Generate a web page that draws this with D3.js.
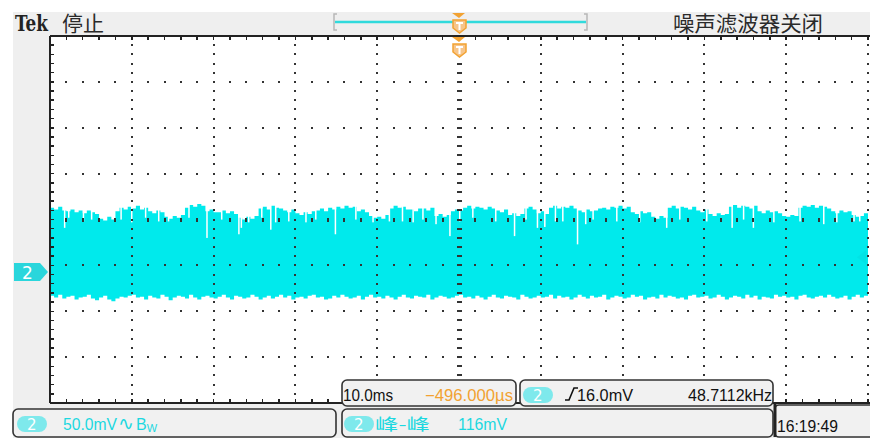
<!DOCTYPE html>
<html><head><meta charset="utf-8">
<script src="https://cdn.jsdelivr.net/npm/d3@7"></script>
<style>html,body{margin:0;padding:0;background:#fff;overflow:hidden}svg{display:block}</style>
</head><body><svg id="c" width="870" height="440"></svg>
<script>
// ---- data (mV, channel 2, sampled every 0.5 ms over 100 ms) ----
const sampleStep = 0.5; // ms
const topEnv = [
70,68,71,67,66,68,65,67,64,67,65,63,58,56,60,57,66,70,68,71,
69,72,68,70,66,64,67,65,60,58,61,59,62,70,73,71,74,72,66,68,
65,65,67,64,66,63,59,57,60,58,61,69,71,68,72,70,69,67,65,68,
64,62,65,63,66,67,69,66,70,68,71,69,72,70,71,66,68,65,61,59,
60,58,62,69,72,70,71,68,68,66,69,69,67,70,61,63,60,62,66,68,
67,70,72,69,71,70,68,71,69,67,65,68,62,64,61,63,69,71,68,64,
66,63,70,72,69,71,70,72,69,67,65,68,66,67,69,70,68,71,70,72,
69,71,65,63,66,64,65,60,58,61,59,70,72,69,71,70,68,71,67,65,
68,63,61,64,62,63,71,73,70,72,71,69,72,66,64,67,65,66,64,61,
60,62,61,70,72,71,73,70,72,71,69,66,64,67,65,66,62,60,61,64
];
const botEnv = [
-26,-28,-25,-29,-27,-26,-30,-28,-27,-25,-29,-31,-28,-26,-30,-32,-29,-27,-28,-26,
-25,-28,-27,-30,-26,-28,-29,-25,-27,-31,-28,-26,-27,-29,-25,-28,-30,-27,-26,-28,
-29,-27,-25,-28,-30,-26,-27,-29,-28,-25,-27,-30,-28,-26,-29,-27,-25,-28,-26,-30,
-28,-27,-29,-26,-25,-28,-27,-30,-29,-26,-28,-25,-27,-29,-28,-26,-30,-27,-25,-28,
-27,-29,-26,-28,-30,-27,-25,-28,-29,-26,-27,-28,-25,-30,-28,-26,-27,-29,-28,-26,
-25,-28,-27,-29,-26,-28,-30,-27,-25,-28,-29,-26,-27,-28,-30,-25,-27,-29,-28,-26,
-28,-27,-25,-29,-26,-28,-27,-30,-28,-25,-27,-29,-26,-28,-27,-25,-30,-28,-26,-27,
-29,-28,-25,-27,-26,-30,-28,-27,-29,-25,-28,-26,-27,-29,-28,-30,-26,-25,-28,-27,
-26,-29,-28,-25,-27,-30,-28,-26,-27,-29,-25,-28,-26,-30,-27,-28,-29,-25,-27,-26,
-28,-27,-30,-26,-25,-28,-29,-27,-26,-28,-25,-27,-29,-28,-26,-30,-27,-25,-28,-26
];
// narrow dips from the top edge: [time ms, lowest mV]
const notches = [
[1.7,48],[4.0,55],[8.6,57],[13.2,55],[19.1,37],[23.0,41],[23.3,48],[26.9,46],[27.5,54],
[31.2,54],[34.8,41],[41.4,55],[44.3,54],[47.1,52],[48.8,39],[50.0,55],[56.7,39],[59.5,48],
[60.4,49],[61.7,55],[64.4,30],[65.4,52],[75.3,48],[83.3,48],[85.9,48],[94.5,52],[98.2,55],
[2.2,59],[5.0,57],[9.9,54],[11.6,59],[14.4,55],[16.9,59],[20.9,57],[24.2,54],[25.8,59],
[29.1,55],[32.4,57],[37.3,57],[39.4,54],[43.0,55],[45.5,57],[51.6,59],[54.4,55],[58.1,57],
[62.6,55],[66.3,57],[69.2,55],[72.0,54],[76.9,57],[80.2,55],[84.7,57],[88.4,54],[91.6,55],
[96.1,54],[98.9,55]
];
const timePerDiv = 10;      // ms/div
const voltsPerDiv = 50;     // mV/div
const ch2Position = -1.142; // div
const trigLevel = 16.0;     // mV
const trigTime = 50;        // ms (screen centre)
const headerTek = "Tek", headerState = "停止", headerNoise = "噪声滤波器关闭";
const readTimebase = "10.0ms", readDelay = "\u2212496.000\u00b5s";
const readTrigLevel = "16.0mV", readFreq = "48.7112kHz";
const readScale = "50.0mV", readMeasName = "峰-峰", readMeasVal = "116mV", readClock = "16:19:49";

// ---- layout ----
const svg = d3.select("#c");
const P = {l:50, r:868, t:36, b:403};
const gx = d3.scaleLinear().domain([0,10]).range([P.l, P.r]);   // graticule divisions
const gy = d3.scaleLinear().domain([-4,4]).range([P.b, P.t]);
const x = d3.scaleLinear().domain([0, 10*timePerDiv]).range([P.l, P.r]);
const y = d3.scaleLinear().domain([(-4-ch2Position)*voltsPerDiv, (4-ch2Position)*voltsPerDiv]).range([P.b, P.t]);

const CY = "#00eaec", DARK = "#2a2a2a", ORANGE = "#f2a232", GRAY = "#efefef";

svg.append("rect").attr("x",13).attr("y",12).attr("width",857).attr("height",426).attr("fill",GRAY);
svg.append("rect").attr("x",P.l).attr("y",P.t).attr("width",870-P.l).attr("height",P.b-P.t).attr("fill","#fff");

// waveform
svg.append("clipPath").attr("id","pc").append("rect").attr("x",P.l+1).attr("y",P.t).attr("width",870-P.l).attr("height",P.b-P.t);
const pts = topEnv.map((v,i)=>({t:i*sampleStep, hi:v, lo:botEnv[i]}));
pts.push({t:topEnv.length*sampleStep, hi:topEnv[topEnv.length-1], lo:botEnv[botEnv.length-1]});
const wg = svg.append("g").attr("clip-path","url(#pc)");
wg.append("path").datum(pts).attr("fill",CY)
  .attr("d", d3.area().x(d=>x(d.t)).y0(d=>y(d.lo)).y1(d=>y(d.hi)).curve(d3.curveStepAfter));
wg.selectAll("rect.n").data(notches).join("rect").attr("class","n")
  .attr("x",d=>x(d[0])).attr("width",1.5)
  .attr("y",y(80)).attr("height",d=>y(d[1])-y(80)).attr("fill","#fff");

// graticule dots
const gg = svg.append("g").attr("fill","#333").attr("shape-rendering","crispEdges");
for (let k=1;k<=10;k++){
  for (let m=1;m<40;m++){
    const yy = gy(-4+m*0.2);
    if (k===5) gg.append("rect").attr("x",gx(k)-2.5).attr("y",yy-1).attr("width",5).attr("height",2);
    else gg.append("rect").attr("x",gx(k)-1).attr("y",yy-1).attr("width",2).attr("height",2);
  }
}
for (let j=-3;j<=3;j++){
  for (let m=1;m<50;m++){
    if (m%5===0) continue;
    const xx = gx(m*0.2);
    if (j===0) gg.append("rect").attr("x",xx-1).attr("y",gy(j)-2).attr("width",2).attr("height",4);
    else gg.append("rect").attr("x",xx-1).attr("y",gy(j)-1).attr("width",2).attr("height",2);
  }
}
// border + ticks
const bg = svg.append("g").attr("stroke","#222").attr("shape-rendering","crispEdges");
bg.append("line").attr("x1",P.l).attr("x2",P.l).attr("y1",P.t).attr("y2",P.b).attr("stroke-width",2);
bg.append("line").attr("x1",P.l).attr("x2",870).attr("y1",P.t).attr("y2",P.t).attr("stroke-width",2);
bg.append("line").attr("x1",P.l).attr("x2",870).attr("y1",P.b).attr("y2",P.b).attr("stroke-width",2);
for (let m=1;m<40;m++){ const yy=gy(-4+m*0.2); bg.append("line").attr("x1",P.l).attr("x2",P.l+4).attr("y1",yy).attr("y2",yy).attr("stroke-width",1.5); }
for (let m=1;m<=50;m++){ const xx=gx(m*0.2);
  bg.append("line").attr("x1",xx).attr("x2",xx).attr("y1",P.t).attr("y2",P.t+4).attr("stroke-width",1.5);
  bg.append("line").attr("x1",xx).attr("x2",xx).attr("y1",P.b).attr("y2",P.b-4).attr("stroke-width",1.5);
}

// header
svg.append("text").attr("x",15).attr("y",31).attr("font-family","'DejaVu Serif',serif").attr("font-weight","bold")
  .attr("font-size",23).attr("textLength",33).attr("lengthAdjust","spacingAndGlyphs").attr("fill","#222").text(headerTek);
svg.append("text").attr("x",62).attr("y",31).attr("font-family","'Noto Sans CJK SC'").attr("font-size",21)
  .attr("fill",DARK).text(headerState);
svg.append("text").attr("x",673).attr("y",31).attr("font-family","'Noto Sans CJK SC'").attr("font-size",21)
  .attr("textLength",150).attr("lengthAdjust","spacingAndGlyphs").attr("fill",DARK).text(headerNoise);
// record bracket
svg.append("path").attr("d","M337,14 H334 V30 H337 M584,14 H587 V30 H584").attr("fill","none").attr("stroke","#b8b8b8").attr("stroke-width",1.5);
svg.append("line").attr("x1",335).attr("x2",586).attr("y1",22).attr("y2",22).attr("stroke","#30dadc").attr("stroke-width",2.5);
// trigger markers
const tx = x(trigTime);
function trigMark(cx, ty){
  svg.append("path").attr("d",`M${cx-7},${ty} H${cx+6} L${cx},${ty+5} Z`).attr("fill",ORANGE);
  const py = ty+7;
  svg.append("path").attr("d",`M${cx-6},${py} H${cx+7} V${py+8} L${cx+0.5},${py+13} L${cx-6},${py+8} Z`)
    .attr("fill","#f7c58a").attr("stroke",ORANGE).attr("stroke-width",1.5);
  svg.append("path").attr("d",`M${cx-3},${py+3} H${cx+4} M${cx+0.5},${py+3} V${py+10}`).attr("stroke","#fff").attr("stroke-width",2);
}
trigMark(tx, 13);
trigMark(tx, 37);

// channel ground marker
const gyc = y(0);
svg.append("path").attr("d",`M14,${gyc-9} H40 L48,${gyc} L40,${gyc+9} H14 Z`).attr("fill","#2ad6dc");
svg.append("text").attr("x",22).attr("y",gyc+7).attr("font-family","'DejaVu Sans'").attr("font-size",17).attr("fill","#fff").text("2");
// trigger level marker (faint)
const tly = y(trigLevel);
svg.append("path").attr("d",`M857,${tly} L866,${tly-7} V${tly+7} Z`).attr("fill","#00c8c8").attr("opacity",0.18);

// readout boxes
function box(x0,y0,w,h){ svg.append("rect").attr("x",x0).attr("y",y0).attr("width",w).attr("height",h).attr("rx",5)
  .attr("fill","#f1f1f1").attr("stroke","#333").attr("stroke-width",1.6); }
function pill(x0,y0){ svg.append("rect").attr("x",x0).attr("y",y0).attr("width",30).attr("height",16).attr("rx",8).attr("fill","#7ee9ec");
  svg.append("text").attr("x",x0+10).attr("y",y0+14).attr("font-family","'DejaVu Sans'").attr("font-size",15).attr("fill","#fff").text("2"); }
function txt(str,x0,yb,w,col,fam){ return svg.append("text").attr("x",x0).attr("y",yb).attr("font-family",fam||"'Liberation Sans',sans-serif")
  .attr("font-size",16).attr("textLength",w).attr("lengthAdjust","spacingAndGlyphs").attr("fill",col).text(str); }

box(342,380,174,26);
txt(readTimebase,343,401,50,"#111");
txt(readDelay,425,401,88,ORANGE);
box(520,380,253,26);
pill(523,387);
svg.append("path").attr("d","M565,400 H569 L574,388 H578").attr("fill","none").attr("stroke","#111").attr("stroke-width",1.6);
txt(readTrigLevel,577,401,56,"#111");
txt(readFreq,688,401,84,"#111");

box(13,409,323,28);
pill(17,416);
txt(readScale,63,430,54,"#1cd8e0");
svg.append("text").attr("x",118).attr("y",430).attr("font-family","'DejaVu Sans'").attr("font-size",19).attr("fill","#1cd8e0").text("\u223f");
svg.append("text").attr("x",136).attr("y",430).attr("font-family","'Liberation Sans'").attr("font-size",16).attr("fill","#1cd8e0")
  .text("B").append("tspan").attr("font-size",11).attr("dy",2).text("W");
box(342,409,431,28);
pill(344,416);
txt(readMeasName,375,430,55,"#1cd8e0","'Noto Sans CJK SC'");
txt(readMeasVal,458,430,49,"#1cd8e0");
svg.append("rect").attr("x",775).attr("y",405).attr("width",100).attr("height",32).attr("rx",4).attr("fill","#f1f1f1").attr("stroke","#333").attr("stroke-width",1.6);
svg.append("line").attr("x1",775).attr("x2",775).attr("y1",404).attr("y2",437).attr("stroke","#222").attr("stroke-width",3);
txt(readClock,777,432,61,"#111");
</script></body></html>
